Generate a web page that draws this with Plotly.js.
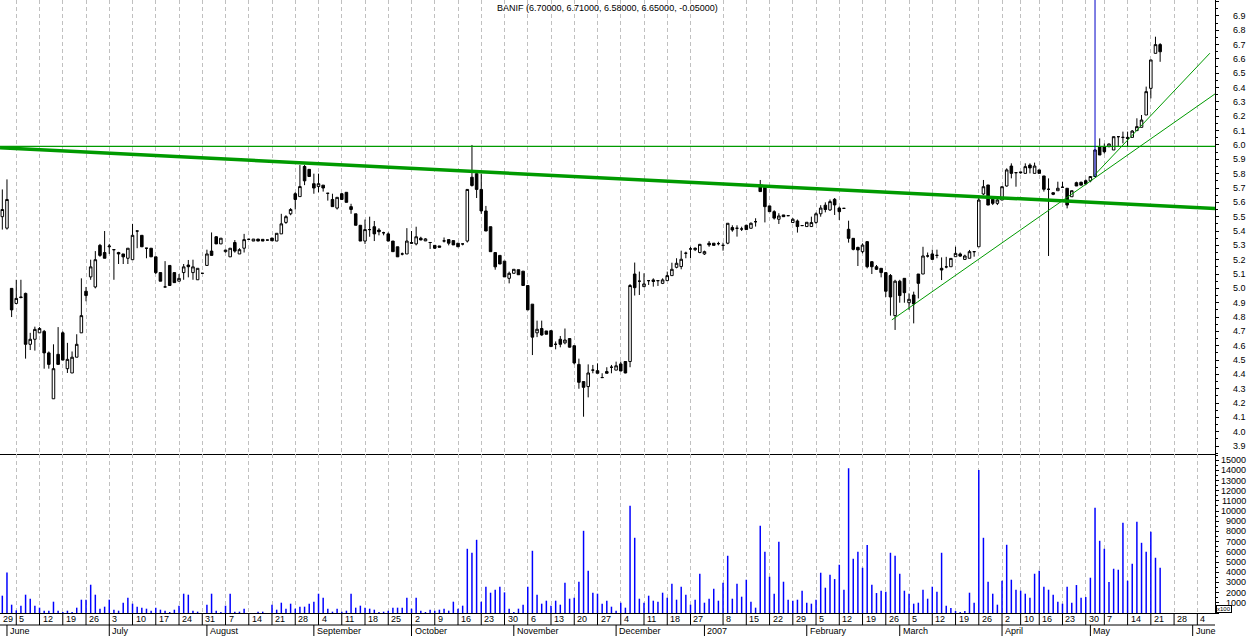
<!DOCTYPE html>
<html>
<head>
<meta charset="utf-8">
<script src="https://cdn.plot.ly/plotly-3.0.1.min.js"></script>
<style>
  html, body { margin: 0; padding: 0; background: #ffffff; }
  #chart { width: 1250px; height: 636px; }
</style>
</head>
<body>
<div id="chart"></div>
<script>
// ---- trading calendar -------------------------------------------------------
const calendarStart = '2006-05-29';
const calendarEnd = '2007-06-08';
const holidays = ['2006-12-25', '2006-12-26', '2007-01-01', '2007-04-06', '2007-04-09', '2007-05-01'];
const originDay = '2006-06-05';
const firstSession = '2006-05-31';
const ticker = 'BANIF';

// ---- daily prices, 31 May 2006 .. 23 May 2007 --------------------------------
const open = [
  5.50, 5.42, 5.00,
  4.895, 4.94, 4.965, 4.61, 4.645, 4.69, 4.70, 4.55, 4.23, 4.54,
  4.69, 4.44, 4.41, 4.52, 4.69, 4.98, 5.08, 5.01, 5.30, 5.25,
  5.29, 5.27, 5.25, 5.24, 5.21, 5.20, 5.40, 5.37, 5.28, 5.28,
  5.22, 5.11, 5.01, 5.16, 5.11, 5.05, 5.11, 5.163, 5.11, 5.06,
  5.105, 5.16, 5.26, 5.36, 5.31, 5.256, 5.22, 5.32, 5.24, 5.28,
  5.342, 5.33, 5.344, 5.342, 5.337, 5.351, 5.33, 5.38, 5.46, 5.52,
  5.66, 5.64, 5.85, 5.83, 5.73, 5.71, 5.72, 5.663, 5.62, 5.56,
  5.66, 5.67, 5.57, 5.52, 5.44, 5.33, 5.41, 5.43, 5.407, 5.388,
  5.38, 5.33, 5.29, 5.24, 5.24, 5.32, 5.31, 5.35, 5.331, 5.32,
  5.30, 5.296, 5.331, 5.34, 5.333, 5.315, 5.31, 5.33, 5.775, 5.80,
  5.69, 5.54, 5.43, 5.25, 5.23, 5.19, 5.07, 5.105, 5.13, 5.12,
  5.02, 4.89, 4.69, 4.72, 4.703, 4.705, 4.61, 4.645, 4.62, 4.65,
  4.60, 4.47, 4.35, 4.315, 4.43, 4.426, 4.378, 4.42, 4.45, 4.43,
  4.473, 4.49, 4.49, 5.10, 5.05, 5.012, 5.054, 5.059, 5.054, 5.035,
  5.054, 5.089, 5.147, 5.152, 5.245, 5.275, 5.27, 5.25,
  5.24, 5.315, 5.315, 5.312, 5.30, 5.315, 5.424, 5.419, 5.414, 5.44,
  5.419, 5.465, 5.72, 5.705, 5.575, 5.535, 5.482, 5.512, 5.507, 5.459,
  5.47, 5.438, 5.431, 5.431, 5.46, 5.52, 5.58, 5.547, 5.621, 5.56,
  5.558, 5.412, 5.349, 5.286, 5.256, 5.326, 5.186, 5.151, 5.14, 5.11,
  5.09, 4.81, 5.05, 5.07, 4.90, 4.954, 5.10, 5.10, 5.226, 5.24,
  5.23, 5.14, 5.15, 5.151, 5.221, 5.24, 5.202, 5.21, 5.256, 5.29,
  5.658, 5.721, 5.621, 5.593, 5.616, 5.714, 5.853, 5.807,
  5.812, 5.802, 5.86, 5.802, 5.826, 5.784, 5.691, 5.667, 5.681, 5.705,
  5.698, 5.639, 5.737, 5.74, 5.751, 5.75, 5.78, 5.988,
  5.988, 5.988, 5.965, 6.058, 6.053, 6.053, 6.053, 6.10, 6.123, 6.209,
  6.395, 6.639, 6.70
];
const high = [
  5.69, 5.76, 5.00,
  5.06, 5.06, 4.97, 4.69, 4.733, 4.73, 4.71, 4.56, 4.61, 4.73,
  4.70, 4.62, 4.56, 4.68, 5.07, 5.01, 5.20, 5.26, 5.31, 5.40,
  5.31, 5.27, 5.255, 5.24, 5.28, 5.45, 5.40, 5.37, 5.28, 5.28,
  5.22, 5.11, 5.19, 5.16, 5.11, 5.10, 5.17, 5.198, 5.20, 5.14,
  5.105, 5.27, 5.39, 5.365, 5.35, 5.27, 5.28, 5.337, 5.28, 5.38,
  5.342, 5.344, 5.344, 5.342, 5.337, 5.351, 5.384, 5.52, 5.51, 5.56,
  5.67, 5.86, 5.86, 5.83, 5.80, 5.80, 5.72, 5.663, 5.66, 5.635,
  5.665, 5.67, 5.59, 5.52, 5.44, 5.48, 5.50, 5.47, 5.42, 5.395,
  5.39, 5.33, 5.29, 5.25, 5.42, 5.40, 5.43, 5.36, 5.35, 5.32,
  5.30, 5.296, 5.355, 5.34, 5.333, 5.315, 5.31, 5.69, 6.00, 5.81,
  5.80, 5.575, 5.43, 5.25, 5.23, 5.19, 5.117, 5.133, 5.13, 5.12,
  5.02, 4.89, 4.775, 4.775, 4.703, 4.705, 4.63, 4.668, 4.72, 4.65,
  4.60, 4.51, 4.35, 4.47, 4.466, 4.477, 4.408, 4.45, 4.466, 4.489,
  4.489, 4.49, 5.03, 5.18, 5.117, 5.105, 5.054, 5.07, 5.054, 5.07,
  5.117, 5.179, 5.21, 5.263, 5.256, 5.29, 5.285, 5.31,
  5.263, 5.33, 5.315, 5.325, 5.319, 5.454, 5.44, 5.44, 5.43, 5.44,
  5.46, 5.489, 5.756, 5.71, 5.575, 5.545, 5.524, 5.512, 5.507, 5.49,
  5.48, 5.438, 5.461, 5.50, 5.53, 5.58, 5.60, 5.62, 5.63, 5.57,
  5.558, 5.472, 5.35, 5.29, 5.314, 5.33, 5.19, 5.163, 5.14, 5.11,
  5.10, 5.06, 5.06, 5.07, 4.965, 4.977, 5.10, 5.29, 5.25, 5.27,
  5.27, 5.216, 5.22, 5.209, 5.291, 5.25, 5.235, 5.268, 5.256, 5.63,
  5.756, 5.721, 5.621, 5.639, 5.709, 5.837, 5.872, 5.807,
  5.812, 5.872, 5.872, 5.877, 5.826, 5.784, 5.767, 5.67, 5.744, 5.744,
  5.698, 5.681, 5.744, 5.744, 5.76, 5.78, 5.97, 6.046,
  6.01, 6.01, 6.058, 6.058, 6.093, 6.093, 6.104, 6.186, 6.209, 6.407,
  6.593, 6.755, 6.71
];
const low = [
  5.41, 5.41, 4.80,
  4.89, 4.93, 4.51, 4.57, 4.566, 4.69, 4.44, 4.44, 4.23, 4.47,
  4.50, 4.41, 4.41, 4.52, 4.69, 4.91, 5.06, 5.00, 5.22, 5.21,
  5.24, 5.06, 5.17, 5.17, 5.17, 5.20, 5.28, 5.29, 5.21, 5.22,
  5.10, 5.05, 5.01, 5.02, 5.04, 5.05, 5.06, 5.077, 5.06, 5.06,
  5.105, 5.16, 5.23, 5.31, 5.31, 5.25, 5.22, 5.249, 5.24, 5.25,
  5.342, 5.33, 5.33, 5.33, 5.337, 5.332, 5.33, 5.38, 5.45, 5.51,
  5.55, 5.64, 5.72, 5.78, 5.66, 5.67, 5.675, 5.612, 5.57, 5.55,
  5.616, 5.60, 5.52, 5.44, 5.33, 5.31, 5.36, 5.33, 5.37, 5.37,
  5.33, 5.256, 5.22, 5.23, 5.24, 5.31, 5.30, 5.335, 5.33, 5.275,
  5.275, 5.287, 5.32, 5.30, 5.303, 5.29, 5.30, 5.32, 5.71, 5.63,
  5.52, 5.40, 5.256, 5.13, 5.17, 5.08, 5.035, 5.105, 5.095, 5.02,
  4.85, 4.535, 4.66, 4.67, 4.68, 4.594, 4.575, 4.589, 4.61, 4.587,
  4.47, 4.30, 4.105, 4.24, 4.408, 4.408, 4.378, 4.408, 4.408, 4.43,
  4.424, 4.408, 4.45, 4.95, 4.954, 5.01, 5.024, 5.012, 5.017, 5.03,
  5.054, 5.089, 5.14, 5.133, 5.21, 5.21, 5.26, 5.245,
  5.233, 5.29, 5.30, 5.30, 5.263, 5.308, 5.395, 5.361, 5.40, 5.41,
  5.419, 5.431, 5.675, 5.46, 5.535, 5.48, 5.449, 5.50, 5.507, 5.459,
  5.389, 5.438, 5.431, 5.431, 5.45, 5.50, 5.53, 5.54, 5.512, 5.477,
  5.558, 5.319, 5.265, 5.156, 5.244, 5.14, 5.10, 5.128, 5.077, 4.94,
  4.81, 4.71, 4.90, 4.90, 4.85, 4.756, 4.93, 5.10, 5.215, 5.202,
  5.21, 5.058, 5.14, 5.151, 5.221, 5.22, 5.20, 5.21, 5.221, 5.29,
  5.65, 5.581, 5.581, 5.581, 5.616, 5.709, 5.767, 5.709,
  5.80, 5.802, 5.802, 5.802, 5.802, 5.675, 5.226, 5.65, 5.681, 5.705,
  5.558, 5.639, 5.714, 5.72, 5.728, 5.74, 5.78, 5.93,
  5.94, 5.985, 5.965, 5.988, 6.011, 5.988, 6.053, 6.10, 6.123, 6.209,
  6.325, 6.639, 6.58
];
const close = [
  5.55, 5.62, 4.85,
  4.93, 4.937, 4.61, 4.645, 4.714, 4.72, 4.55, 4.47, 4.44, 4.47,
  4.50, 4.505, 4.52, 4.61, 4.81, 4.95, 5.15, 5.20, 5.23, 5.21,
  5.295, 5.27, 5.24, 5.22, 5.28, 5.37, 5.40, 5.29, 5.28, 5.22,
  5.11, 5.05, 5.01, 5.02, 5.04, 5.07, 5.15, 5.151, 5.15, 5.14,
  5.105, 5.24, 5.23, 5.31, 5.35, 5.267, 5.28, 5.26, 5.27, 5.34,
  5.342, 5.344, 5.33, 5.33, 5.337, 5.332, 5.384, 5.45, 5.50, 5.55,
  5.62, 5.71, 5.75, 5.78, 5.70, 5.73, 5.70, 5.663, 5.57, 5.635,
  5.62, 5.60, 5.55, 5.44, 5.33, 5.41, 5.41, 5.38, 5.395, 5.388,
  5.33, 5.256, 5.22, 5.24, 5.33, 5.315, 5.36, 5.338, 5.345, 5.32,
  5.28, 5.287, 5.331, 5.315, 5.303, 5.29, 5.31, 5.69, 5.717, 5.69,
  5.54, 5.40, 5.256, 5.15, 5.17, 5.08, 5.105, 5.133, 5.095, 5.02,
  4.85, 4.66, 4.715, 4.675, 4.68, 4.594, 4.61, 4.61, 4.64, 4.59,
  4.48, 4.345, 4.31, 4.41, 4.43, 4.408, 4.378, 4.408, 4.45, 4.46,
  4.424, 4.41, 5.02, 5.005, 5.05, 5.031, 5.054, 5.048, 5.054, 5.059,
  5.089, 5.133, 5.175, 5.203, 5.245, 5.275, 5.28, 5.307,
  5.256, 5.303, 5.30, 5.312, 5.30, 5.454, 5.407, 5.419, 5.414, 5.41,
  5.454, 5.465, 5.675, 5.57, 5.535, 5.49, 5.505, 5.50, 5.507, 5.482,
  5.431, 5.438, 5.461, 5.459, 5.52, 5.56, 5.55, 5.605, 5.582, 5.535,
  5.558, 5.349, 5.272, 5.268, 5.302, 5.151, 5.151, 5.133, 5.11, 4.98,
  4.94, 5.05, 4.95, 4.97, 4.924, 4.891, 5.035, 5.226, 5.226, 5.202,
  5.23, 5.128, 5.15, 5.209, 5.244, 5.225, 5.226, 5.256, 5.256, 5.616,
  5.709, 5.581, 5.593, 5.616, 5.709, 5.826, 5.802, 5.807,
  5.807, 5.849, 5.84, 5.853, 5.802, 5.691, 5.691, 5.656, 5.698, 5.705,
  5.581, 5.681, 5.714, 5.72, 5.728, 5.78, 5.965, 5.93,
  5.953, 6.007, 6.058, 6.058, 6.053, 6.046, 6.097, 6.128, 6.174, 6.372,
  6.593, 6.70, 6.65
];
// daily volume, in hundreds of shares
const volume = [
  1700, 3980, 816,
  261, 718, 1796, 1404, 718, 522, 228, 228, 1110, 228,
  100, 228, 100, 522, 1306, 1306, 2775, 1796, 424, 620,
  1306, 326, 228, 1012, 1502, 914, 620, 522, 424, 228,
  522, 326, 228, 100, 326, 718, 1894, 1796, 228, 130,
  0, 816, 1894, 228, 100, 718, 1894, 130, 130, 424,
  0, 0, 130, 130, 0, 816, 326, 1012, 424, 914,
  424, 620, 620, 914, 1110, 1894, 1502, 424, 130, 424,
  130, 228, 1894, 522, 718, 522, 424, 326, 100, 130,
  228, 522, 522, 522, 1502, 424, 1502, 229, 100, 327,
  229, 327, 424, 229, 1110, 424, 718, 6301, 5910, 7183,
  1110, 2579, 1992, 2286, 2579, 2024, 424, 100, 424, 816,
  2579, 6106, 1796, 914, 1208, 718, 1208, 816, 2971, 1404,
  1502, 3069, 8065, 4147, 1992, 1894, 914, 1208, 620, 229,
  1012, 522, 10513, 7379, 1404, 1012, 1698, 1208, 1110, 1992,
  1502, 2873, 1306, 2579, 1796, 816, 1306, 3853,
  1012, 1404, 2383, 1208, 2971, 5616, 1404, 2873, 1600, 3265,
  1110, 522, 8554, 6008, 3559, 1894, 6987, 3069, 1306, 1208,
  1306, 2188, 1012, 914, 1306, 3951, 2481, 3755, 3330, 4734,
  2286, 14203, 5322, 6008, 4440, 6661, 2775, 1959, 2188, 2090,
  5910, 5616, 3853, 2188, 1894, 914, 1012, 2286, 1404, 2579,
  2090, 5910, 718, 490, 196, 100, 196, 1992, 1012, 14040,
  7379, 3069, 1894, 816, 3167, 6693, 3265, 2286,
  2188, 1894, 1502, 3853, 4147, 2579, 2286, 1796, 1110, 914,
  2579, 1012, 2743, 1502, 1567, 3461, 10317, 7085,
  6302, 3036, 4342, 4245, 8848, 3167, 4832, 8946, 6889, 6008,
  7966, 5420, 4440
];

// ---- drawn lines (day slot, price) -------------------------------------------
const resistanceX = [-3.5, 257.8];
const resistanceY = [5.98, 5.557];
const ceilingX = [-3.5, 257.8];
const ceilingY = [5.99, 5.99];
const supportX = [188.3, 257.8];
const supportY = [4.78, 6.356];
const steepX = [231.6, 256.7];
const steepY = [5.78, 6.64];
const markerX = [232, 232];
const markerY = [5.78, 7.02];

// ---- axis labels -------------------------------------------------------------
const weekStarts = [
  '2006-05-29', '2006-06-05', '2006-06-12', '2006-06-19', '2006-06-26', '2006-07-03', '2006-07-10',
  '2006-07-17', '2006-07-24', '2006-07-31', '2006-08-07', '2006-08-14', '2006-08-21', '2006-08-28',
  '2006-09-04', '2006-09-11', '2006-09-18', '2006-09-25', '2006-10-02', '2006-10-09', '2006-10-16',
  '2006-10-23', '2006-10-30', '2006-11-06', '2006-11-13', '2006-11-20', '2006-11-27', '2006-12-04',
  '2006-12-11', '2006-12-18', '2006-12-27', '2007-01-08', '2007-01-15', '2007-01-22', '2007-01-29',
  '2007-02-05', '2007-02-12', '2007-02-19', '2007-02-26', '2007-03-05', '2007-03-12', '2007-03-19',
  '2007-03-26', '2007-04-02', '2007-04-10', '2007-04-16', '2007-04-23', '2007-04-30', '2007-05-07',
  '2007-05-14', '2007-05-21', '2007-05-28', '2007-06-04'
];
const monthStarts = [
  '2006-06-01', '2006-07-03', '2006-08-01', '2006-09-01', '2006-10-02', '2006-11-01', '2006-12-01',
  '2007-01-02', '2007-02-01', '2007-03-01', '2007-04-02', '2007-05-02', '2007-06-01'
];
const monthNames = ['June', 'July', 'August', 'September', 'October', 'November', 'December',
  '2007', 'February', 'March', 'April', 'May', 'June'];
const priceTicks = [3.9, 4.0, 4.1, 4.2, 4.3, 4.4, 4.5, 4.6, 4.7, 4.8, 4.9, 5.0, 5.1, 5.2, 5.3, 5.4,
  5.5, 5.6, 5.7, 5.8, 5.9, 6.0, 6.1, 6.2, 6.3, 6.4, 6.5, 6.6, 6.7, 6.8, 6.9];
const volumeTicks = [1000, 2000, 3000, 4000, 5000, 6000, 7000, 8000, 9000, 10000, 11000, 12000,
  13000, 14000, 15000];
const volumeUnit = 'x100';

// ---- build -------------------------------------------------------------------
const sessions = [];
for (let d = new Date(calendarStart + 'T00:00:00Z'); d <= new Date(calendarEnd + 'T00:00:00Z');
     d.setUTCDate(d.getUTCDate() + 1)) {
  const iso = d.toISOString().slice(0, 10);
  const wd = d.getUTCDay();
  if (wd === 0 || wd === 6 || holidays.includes(iso)) continue;
  sessions.push(iso);
}
const slot = iso => sessions.indexOf(iso) - sessions.indexOf(originDay);
const x0 = slot(firstSession);
const xs = open.map((_, k) => x0 + k);
const weekX = weekStarts.map(slot);
const monthX = monthStarts.map(slot);

const xRange = [-3.5, 257.8];
// paper position of a day slot; a label that would start left of the plot is pinned to its edge
const toPaperX = s => Math.max(0, (s - xRange[0]) / (xRange[1] - xRange[0]));

const ink = '#000000';
const green = '#009a00';
const labelFont = { family: 'Liberation Sans, Arial, sans-serif', size: 9, color: ink };

const volTop = 1 - 454 / 613;      // price pane spans the upper part of the plot
const rowMid1 = -6 / 613, rowSplit = -12 / 613, rowMid2 = -18 / 613, rowEnd = -23 / 613;
const labelRight = 1248 / 1215;

const traces = [
  {
    type: 'candlestick', x: xs, open: open, high: high, low: low, close: close,
    xaxis: 'x', yaxis: 'y', whiskerwidth: 0,
    increasing: { line: { color: ink, width: 1 }, fillcolor: '#ffffff' },
    decreasing: { line: { color: ink, width: 1 }, fillcolor: ink },
    hoverinfo: 'skip', showlegend: false
  },
  { type: 'scatter', mode: 'lines', x: resistanceX, y: resistanceY, xaxis: 'x', yaxis: 'y',
    line: { color: green, width: 3.5 }, hoverinfo: 'skip', showlegend: false },
  { type: 'scatter', mode: 'lines', x: ceilingX, y: ceilingY, xaxis: 'x', yaxis: 'y',
    line: { color: green, width: 1.2 }, hoverinfo: 'skip', showlegend: false },
  { type: 'scatter', mode: 'lines', x: supportX, y: supportY, xaxis: 'x', yaxis: 'y',
    line: { color: green, width: 1 }, hoverinfo: 'skip', showlegend: false },
  { type: 'scatter', mode: 'lines', x: steepX, y: steepY, xaxis: 'x', yaxis: 'y',
    line: { color: green, width: 1 }, hoverinfo: 'skip', showlegend: false },
  { type: 'scatter', mode: 'lines', x: markerX, y: markerY, xaxis: 'x', yaxis: 'y',
    line: { color: '#0000c8', width: 1 }, hoverinfo: 'skip', showlegend: false },
  {
    type: 'bar', x: xs, y: volume, xaxis: 'x2', yaxis: 'y2', width: 0.32,
    marker: { color: '#0000ff', line: { width: 0 } }, hoverinfo: 'skip', showlegend: false
  }
];

const annotations = [];
const n = close.length;
const fmt = v => v.toFixed(5);
annotations.push({
  xref: 'paper', yref: 'paper', x: 0.5, y: 1, yanchor: 'top', yshift: -1, showarrow: false,
  text: ticker + ' (' + [open[n - 1], high[n - 1], low[n - 1], close[n - 1],
    close[n - 1] - close[n - 2]].map(fmt).join(', ') + ')',
  font: labelFont
});
priceTicks.forEach(v => annotations.push({
  xref: 'paper', yref: 'y', x: labelRight, y: v, xanchor: 'right', yanchor: 'middle',
  showarrow: false, text: v.toFixed(1), font: labelFont
}));
volumeTicks.forEach(v => annotations.push({
  xref: 'paper', yref: 'y2', x: labelRight, y: v, xanchor: 'right', yanchor: 'middle',
  showarrow: false, text: String(v), font: labelFont
}));
annotations.push({
  xref: 'paper', yref: 'paper', x: 1216 / 1215, y: 0, xanchor: 'left', yanchor: 'bottom',
  showarrow: false, text: volumeUnit, font: { family: labelFont.family, size: 6, color: ink },
  bordercolor: ink, borderwidth: 1, borderpad: 0, bgcolor: '#ffffff'
});
weekStarts.forEach((iso, k) => annotations.push({
  xref: 'paper', yref: 'paper', x: toPaperX(weekX[k]), y: rowMid1, xanchor: 'left', yanchor: 'middle',
  xshift: 1, showarrow: false, text: String(Number(iso.slice(8, 10))), font: labelFont
}));
monthNames.forEach((name, k) => annotations.push({
  xref: 'paper', yref: 'paper', x: toPaperX(monthX[k]), y: rowMid2, xanchor: 'left', yanchor: 'middle',
  xshift: 1, showarrow: false, text: name, font: labelFont
}));

const shapes = [];
weekX.forEach(x => shapes.push({
  type: 'line', xref: 'x2', yref: 'paper', x0: x, x1: x, y0: 0, y1: rowSplit,
  line: { color: ink, width: 1 }
}));
monthX.forEach(x => shapes.push({
  type: 'line', xref: 'x2', yref: 'paper', x0: x, x1: x, y0: rowSplit, y1: rowEnd,
  line: { color: ink, width: 1 }
}));
shapes.push({
  type: 'line', xref: 'paper', yref: 'paper', x0: 0, x1: 1, y0: rowSplit, y1: rowSplit,
  line: { color: ink, width: 1 }
});

const xCommon = {
  range: xRange, tickvals: weekX, showticklabels: false, ticks: '',
  showgrid: true, gridcolor: '#c0c0c0', griddash: '4px,3px', gridwidth: 1,
  zeroline: false, showline: true, linecolor: ink, linewidth: 1, fixedrange: true
};
const yCommon = {
  side: 'right', showline: true, linecolor: ink, linewidth: 1, ticks: 'outside', ticklen: 3,
  tickcolor: ink, showticklabels: false, showgrid: false, zeroline: false, fixedrange: true
};

const layout = {
  width: 1250, height: 636,
  margin: { l: 0, r: 35, t: 0, b: 23, pad: 0 },
  paper_bgcolor: '#ffffff', plot_bgcolor: '#ffffff',
  showlegend: false, boxgap: 0.22,
  xaxis: Object.assign({}, xCommon, { anchor: 'y', domain: [0, 1], rangeslider: { visible: false } }),
  xaxis2: Object.assign({}, xCommon, { anchor: 'y2', domain: [0, 1], matches: 'x' }),
  yaxis: Object.assign({}, yCommon, {
    anchor: 'x', domain: [volTop, 1], range: [3.845, 7.011], tick0: 0, dtick: 0.1,
    minor: { dtick: 0.05, ticks: 'outside', ticklen: 2, tickcolor: ink }
  }),
  yaxis2: Object.assign({}, yCommon, {
    anchor: 'x2', domain: [0, volTop], range: [0, 15600], tick0: 0, dtick: 1000,
    minor: { dtick: 500, ticks: 'outside', ticklen: 2, tickcolor: ink }
  }),
  annotations: annotations,
  shapes: shapes
};

Plotly.newPlot('chart', traces, layout, { staticPlot: true, displayModeBar: false });
</script>
</body>
</html>
